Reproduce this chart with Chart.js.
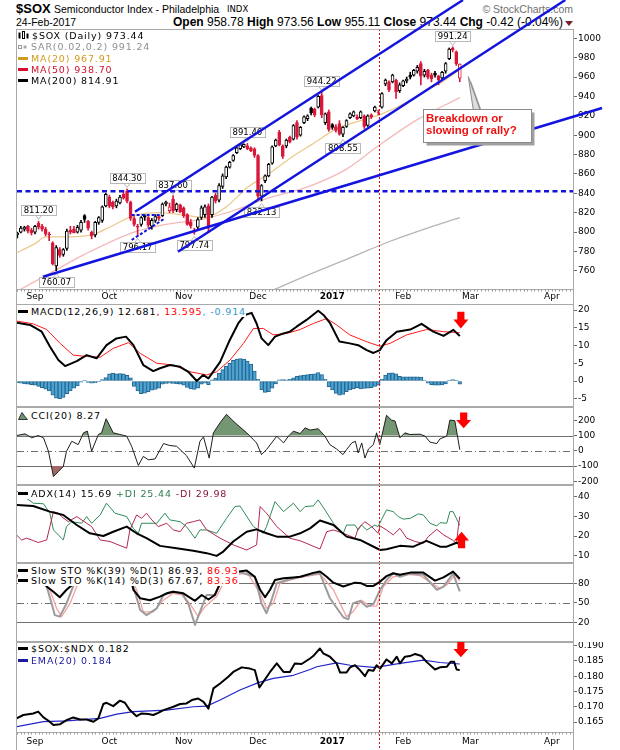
<!DOCTYPE html>
<html><head><meta charset="utf-8">
<script src="https://cdn.jsdelivr.net/npm/chart.js@4.4.1/dist/chart.umd.min.js"></script>
<style>
html,body{margin:0;padding:0;background:#fff;}
#wrap{position:relative;width:620px;height:750px;overflow:hidden;background:#fff;}
canvas{position:absolute;left:0;z-index:2;}
.t{position:absolute;white-space:nowrap;z-index:1;font-family:"Liberation Sans",Arial,sans-serif;color:#000;}
.lg{position:absolute;left:18px;z-index:5;font-family:"DejaVu Sans",sans-serif;font-size:9.5px;letter-spacing:0.85px;line-height:11px;white-space:nowrap;}
.lg .row{display:block;width:max-content;background:#fff;}
.ic{display:inline-block;width:10px;height:3px;vertical-align:middle;margin-right:3px;position:relative;top:-1px;}
.lg svg{vertical-align:middle;margin-right:3px;position:relative;top:-1px;}
</style></head>
<body><div id="wrap">
<div class="t" style="left:16px;top:2.3px;font-size:13px;line-height:13px;font-weight:bold;">$SOX</div>
<div class="t" style="left:54px;top:3.8px;font-size:10.5px;line-height:10.5px;">Semiconductor Index - Philadelphia</div>
<div class="t" style="left:227px;top:5.1px;font-size:8.5px;line-height:8.5px;font-family:'DejaVu Sans';">INDX</div>
<div class="t" style="left:16px;top:17.1px;font-size:10.5px;line-height:10.5px;">24-Feb-2017</div>
<div class="t" style="right:57px;top:15.8px;font-size:12px;line-height:12px;"><b>Open</b> 958.78 <b>High</b> 973.56 <b>Low</b> 955.11 <b>Close</b> 973.44 <b>Chg</b> -0.42 (-0.04%)</div>
<div class="t" style="left:565px;top:20.5px;width:0;height:0;border-left:4px solid transparent;border-right:4px solid transparent;border-top:5px solid #7a1f2b;"></div>
<div class="t" style="right:47px;top:3.6px;font-size:10.5px;line-height:10.5px;color:#707070;">© StockCharts.com</div>

<canvas id="cMain" width="620" height="305" style="top:0px"></canvas>
<canvas id="cMacd" width="620" height="103" style="top:304px"></canvas>
<canvas id="cCci" width="620" height="78" style="top:407px"></canvas>
<canvas id="cAdx" width="620" height="78" style="top:485px"></canvas>
<canvas id="cSto" width="620" height="79" style="top:563px"></canvas>
<canvas id="cRat" width="620" height="108" style="top:642px"></canvas>

<div class="lg" style="top:30px;line-height:11.3px;">
 <div class="row"><svg width="11" height="9"><rect x="0.5" y="1.5" width="2" height="6" fill="#000"/><rect x="4.5" y="0.5" width="2" height="7" fill="#fff" stroke="#000" stroke-width="1"/><rect x="8.5" y="2.5" width="2" height="5" fill="#000"/></svg>$SOX (Daily) 973.44</div>
 <div class="row" style="color:#8f8f8f"><svg width="10" height="9"><rect x="0.5" y="3.5" width="3" height="3" fill="none" stroke="#999"/><rect x="5.5" y="3.5" width="3" height="3" fill="#aaa"/></svg>SAR(0.02,0.2) 991.24</div>
 <div class="row" style="color:#d39b1d"><span class="ic" style="background:#d39b1d"></span>MA(20) 967.91</div>
 <div class="row" style="color:#d4102e"><span class="ic" style="background:#d4102e"></span>MA(50) 938.70</div>
 <div class="row"><span class="ic" style="background:#000"></span>MA(200) 814.91</div>
</div>
<div class="lg" style="top:306.2px;"><div class="row"><span class="ic" style="background:#000"></span>MACD(12,26,9) 12.681<span style="color:#ff0000">, 13.595</span><span style="color:#3399cc">, -0.914</span></div></div>
<div class="lg" style="top:410.2px;"><div class="row"><svg width="10" height="9"><polygon points="0.5,8.5 4,1.5 6.5,5 9.5,8.5" fill="#6f9470" stroke="#333" stroke-width="1"/></svg>CCI(20) 8.27</div></div>
<div class="lg" style="top:487.9px;"><div class="row"><span class="ic" style="background:#000"></span>ADX(14) 15.69 <span style="color:#2e7b4f">+DI 25.44</span> <span style="color:#8b1538">-DI 29.98</span></div></div>
<div class="lg" style="top:565.2px;"><div class="row"><span class="ic" style="background:#000"></span>Slow STO %K(39) %D(1) 86.93, <span style="color:#ff0000">86.93</span></div></div>
<div class="lg" style="top:574.5px;"><div class="row"><span class="ic" style="background:#000"></span>Slow STO %K(14) %D(3) 67.67, <span style="color:#ff0000">83.36</span></div></div>
<div class="lg" style="top:642.9px;"><div class="row"><span class="ic" style="background:#000"></span>$SOX:$NDX 0.182</div></div>
<div class="lg" style="top:654.5px;"><div class="row" style="color:#1a1a9a"><span class="ic" style="background:#1a1a9a"></span>EMA(20) 0.184</div></div>
</div>
<script>
// ---------------- DATA ----------------
// trading-day index: 0 = 1-Sep-2016, first candle is day -5 (25-Aug-2016), last is day 120 (24-Feb-2017)
const FIRST_DAY = -5;
const monthTicks = [0, 21, 42, 63, 84, 104, 123, 146];
const monthLabels = ['Sep', 'Oct', 'Nov', 'Dec', '2017', 'Feb', 'Mar', 'Apr'];

const opens = [797,800,803,806,802, 800,809,806,803,798, 789,765,782,777,783, 802,803,800,802,817,
  811,800,797,810,812, 827,836,831,827,830, 839,842,831,814,806, 808,817,815,806,812,
  816,817,829,822,834, 823,828,825,818,810, 800,805,815,818,827, 818,838,833,847,857,
  867,874,882,886,888, 889,887,886,879,837, 853,858,871,889,903, 889,889,898,896,913,
  900,913,917,928,927, 929,941,913,924,911, 909,912,901,909,918, 920,919,918,920,910,
  921,925,924,929,953, 955,955,957,946,951, 956,962,962,966,974, 962,967,962,964,961,
  959,966,979,990,986, 958.78];
const highs = [800,806,806,807,804, 807,811.2,808,805,800, 790,786,784,783,803, 806,806,807,812,818,
  812,801,811,816,827, 840,838,832,834,838, 843,844.3,832,816,808, 816,818,816,814,818,
  817,830,832,830,837.6, 830,829,826,819,813, 804,815,827,828,829, 837,840,850,860,868,
  873,880,888,891,891, 891.46,888,887,880,849, 859,871,889,896,905, 890,896,899,911,915,
  909,920,921,929,928, 941,944.22,923,926,912, 911,915,909,916,923, 925,921,925,921,921,
  922,930,926,944,958, 956,963,958,954,957, 960,965,968,972,976, 968,968,964,966,962,
  966,975,990,991.24,987, 973.56];
const lows = [794,799,801,799,797, 798,803,801,796,791, 766,760.07,774,775,781, 798,799,799,800,810,
  802,793,795,808,810, 826,825,824,825,829, 834,830,812,806,796.17, 806,812,805,803,810,
  812,816,827,820,820, 821,820,815,807,804, 797.74,803,813,815,800, 815,830,831,845,855,
  866,873,881,885,887, 885,883,877,834,832.13, 851,857,870,888,889, 876,887,892,895,896,
  899,912,915,921,919, 928,918,911,904,906, 903,900,898.55,908,917, 919,916,917,907,909,
  917,924,921,928,951, 945,954,938,944,950, 954,958,961,964,952, 960,958,955,960,952,
  957,964,978,986,972, 955.11];
const closes = [799,804,805,801,799, 806,805,803,798,797, 767,784,776,782,801, 800,799,805,810,813,
  804,796,810,815,826, 839,827,826,832,836, 835,832,814,808,805, 815,815.5,807,812,816,
  814,829,831,826,822, 829,821,817,808,806, 802,813,825,826,804, 836,832,848,858,867,
  872,879,887,890,890.5, 886,884,879,837,848, 858,870,888,895,890, 878,895,893,910,898,
  908,919,920,923,921, 940,921,922,906,908, 905,901,908,915,922, 924,917,924,909,920,
  919,929,923.5,943,957, 947,962,945,952,956, 958,960,967,970,961, 966,960,958,962,957,
  965,974,989,988,973.86, 973.44];

const ma20Days = [-5, 0, 3, 9, 16, 21, 28, 35, 43, 48, 54, 60, 66, 72, 78, 86, 93, 98, 105, 110, 115, 120];
const ma20Vals = [779, 788, 795, 795, 797, 805, 817, 820, 817, 815, 826, 846, 860, 876, 890, 908, 916, 922, 934, 945, 955, 967.91];
const ma50Days = [-5, 4, 14, 28, 37, 47, 56, 65, 78, 88, 97, 108, 120];
const ma50Vals = [739, 757, 777, 800, 808, 813, 822, 834, 848, 865, 889, 916, 938.70];
const ma200Days = [66, 78, 90, 100, 110, 120];
const ma200Vals = [738, 757, 775, 790, 803, 814.91];

const macdDays = [-5.2,-1.4,1.9,4.2,6.6,8.5,11.8,14.6,17.4,20.2,23,25.7,27.8,30.6,33.4,35.3,38.1,41,43.3,45.7,47.5,49,52.3,55,57.4,59.3,61.2,62.6,64,65.9,67.8,70.2,72,73.9,76.7,80,81.5,83.4,86,88.9,91.3,93.7,95.6,97.4,99.3,102.2,106,109.2,112.5,115.4,118.2,120];
const macdVals = [16.4,15.8,13.9,9.7,5.9,4.2,5.6,7.3,6.4,10.1,12,12.5,10.1,4.5,2.8,3.6,4.5,4.0,2.6,0.0,1.7,0.75,5.4,11.5,16.2,18.6,19.2,16.2,12,10.1,12.5,13.4,13.9,15.3,17.2,19.8,18.6,16.2,11.1,10.6,10.1,8.7,7.9,8.7,11.5,13.9,14.5,16.1,13.9,12.7,14.4,12.681];
const signalDays = [-5.2,-0.5,3.3,7.1,10.8,14.6,18.4,22.1,26.4,29.7,34.4,39.1,43.8,48.5,51.3,55.1,58.9,61.7,64.5,67.3,71.1,74.9,78.6,82.4,85.2,88.9,93.6,97.4,100.3,105,110.6,115.4,120];
const signalVals = [16.9,16.1,14.5,10.6,7.3,6.9,6.7,9.2,10.8,7.8,5.0,4.5,2.6,1.7,2.6,5.9,10.6,14.8,14.8,13.0,13.4,14.5,16.2,17.6,15.8,13.0,11.1,9.8,10.6,13.0,14.5,13.9,13.595];
const histVals = [-0.5,-0.6,-0.8,-0.9,-1.0, -1.2,-1.5,-1.9,-2.3,-2.8, -4.0,-4.8,-5.0,-4.6,-3.6, -2.8,-2.0,-1.4,-0.3,0.2,
  -0.4,-0.6,-0.5,-0.2,0.4, 1.0,2.0,2.2,2.0,2.1, 2.0,1.6,0.9,-1.5,-2.8, -3.6,-3.4,-3.0,-2.6,-2.4,
  -2.0,-0.9,-0.7,-0.6,-0.7, -0.8,-0.9,-1.2,-1.8,-2.2, -2.4,-2.0,-0.9,-0.6,-1.0, 0.3,0.8,2.2,3.2,4.2,
  5.0,5.8,6.2,6.3,6.2, 5.6,4.8,2.8,0.5,-2.5, -3.2,-3.0,-2.0,-0.8,0.3, 0.4,0.3,0.5,0.9,1.3,
  1.5,1.7,1.8,1.9,2.0, 2.4,1.8,0.5,-1.6,-2.5, -3.5,-4.0,-3.8,-3.0,-2.5, -2.2,-1.9,-2.2,-2.1,-2.0,
  -1.9,-1.5,-1.2,0.5,1.7, 2.2,2.3,2.0,1.3,1.2, 1.2,1.2,1.2,1.2,1.1, 0.2,-0.6,-1.0,-1.2,-1.2,
  -1.1,-0.8,0.1,0.4,0.1, -0.914];

const cciDays = [-5.2,-2.8,-0.9,0.9,2.4,3.8,5.2,6.6,8,8.9,10.4,12.2,13.7,14.8,16,17.9,18.8,20.1,22.1,24,25.9,27.3,29.2,30.6,32,33.9,36.3,38.1,40,42.8,45,46.6,47.6,49.2,50.4,52.3,54.1,56.5,59.8,62.6,64,65.4,68.3,70.2,71.6,73,74.9,76.3,77.7,80,81.9,83.3,85.2,87,88,89.5,90.5,91.3,92.3,93.2,94.2,95.6,96.5,97.4,99.3,100.7,101.7,103.1,104.5,105.9,108.8,110.2,111.6,113.5,114.4,116.3,117.2,118.6,120];
const cciVals = [102,113,87,102,87,-2,-169,-136,-102,-2,64,42,120,131,-2,109,120,213,120,109,98,31,-96,-36,-58,-53,49,36,31,-31,-113,64,93,-47,120,187,242,187,120,53,-24,9,98,53,98,131,115,153,138,147,98,42,13,-24,9,53,64,-13,53,-47,13,42,120,42,236,204,198,87,120,109,111,98,58,49,80,98,204,200,8.27];
const cciLevels = [100, 0, -100];

const adxDays = [-5.2,-0.5,4.2,8,11.8,15.5,19.3,22.1,25.9,28.7,31.5,35.3,40,44.7,48.5,51.3,53.2,56,59.8,62.6,65.4,68.3,72,74.9,77.7,80.5,84.3,88,91.8,97.5,99.3,103.1,106.9,110.6,114.4,116.3,119.1,120];
const adxVals = [35.8,35.3,32.4,30.7,25.6,21.4,20.0,22.2,24.8,21.4,18.9,15.0,13.8,12.5,11.3,9.9,12.1,17.2,22.2,23.4,21.4,19.7,19.7,21.4,23.9,27.9,25.6,19.7,18,12.9,13.3,15,14.6,17.5,14.6,14.6,16.6,15.69];
const pdiDays = [-5.2,-3.8,-2.4,-0.5,2.4,4.2,5.2,8,8.9,10.4,13.2,14.6,16,18.4,20.2,22.6,25.9,27.8,29.2,30.1,34.4,36.7,38.1,41,42.8,45.2,46.6,48.5,51.3,54.1,56.5,57.9,61.7,64.5,65.4,67.8,70.2,73,74.9,76.3,78.6,80,81.9,84.3,87.1,88,90.4,91.3,92.2,93.7,96,96.9,99.3,101.2,102.6,104,106,108.3,109.7,111.6,113.5,114.4,116.3,117.2,118.1,120];
const pdiVals = [43,41,39.2,36.7,36.4,31.6,23.1,18,24.8,27.3,26.5,29.9,26.5,30.7,36.7,31.6,29.9,23.9,21.4,26.5,26.5,31.6,28.2,27.3,24.8,18.9,23.1,23.1,21.4,29.0,35.0,35.3,24.8,21.4,24.8,37.5,32.4,36.7,32.4,35,35.3,38.4,33.3,26.5,21.4,25.6,25.6,23.1,25.6,23.1,25.6,24.8,33.3,32.4,29.9,28.6,29,31.3,30.7,26.5,25.1,26.8,26.5,32.4,32.4,25.44];
const mdiDays = [-5.2,-3.8,-2.4,-0.5,0.9,3.3,4.2,5.2,6.6,7.5,9.4,11.8,16,18.4,21.2,25.9,26.8,28.7,30.1,31.5,33,34.8,37.2,39.1,41,42.8,44.7,46.6,48.5,52.3,56,59.8,62.6,63.6,65.4,68.3,72,74.9,77.7,80.5,82.4,84.3,87.1,90.4,91.3,93.2,95.1,96.9,97.5,99.3,101.2,103.1,105,107.4,109.7,111.1,113.5,115.4,117.9,119.1,119.6,120];
const mdiVals = [20.5,18,18.9,17.7,16.7,18,24.8,32.4,31.6,29.9,27.3,29.9,24.8,18,17.2,13.8,23.1,30.7,29,31.6,28.2,24.8,26.5,23.1,22.2,26.5,27.3,28.2,23.1,18.9,15.5,12.9,15.5,35,31.6,24.8,18.9,17.6,15.5,13.4,22.2,23.1,21.4,18.9,23.9,27.3,24.8,21.4,25.1,23.1,20.6,23.9,18.9,17.2,16.3,19.7,23.4,20.6,18,16.3,24.8,29.98];

const k39Days = [-5,0,2.5,3.3,5.2,7,8.9,10.4,12,15,20,25,27,27.8,29.7,32.5,35.3,37.2,39,41.9,45.2,47.1,49,50.8,52.3,53.2,56,59.8,62.1,63.6,65,66.4,67.8,70.2,73,75,78.6,80.5,82.4,84.3,87.1,90.4,92.2,93.7,95.6,97.5,99.3,101.2,103.1,106,109.7,113,115.4,118.1,120];
const k39Vals = [92,90,82,75,67,58.5,70,77,86,92,95,94,88,70,57,54,59.5,64.6,67,64.6,53,62,55,62,80,90,97,99.5,90,70,58.5,70,85,87.7,89,90,96,98,90,81,75,81,80,76,76,82.6,91,95.4,93,96.4,96.4,84,89,98,86.93];
const k14Days = [-5,1,3.3,4.7,5.6,7,8.9,10.4,11.5,15,20,26,27.8,29.7,31.5,34.4,36.3,39,41.4,43.3,45.2,46.6,48.5,50.8,52.3,54,58,62.1,64,65.4,66.8,68.3,71.1,74.9,79.6,80.5,83.3,87.1,88.5,89.8,91.8,93.7,95.6,97.5,99.3,101.2,103.1,106,109.7,113.5,115.4,118.1,120];
const k14Vals = [90,85,75,49,31,28.7,49,70,85,92,95,93,75,39,31,41.5,62,67,64.6,49,16,36,62,62,80,92,97,90,49,34,54,80,85,90,95,95,57,27.7,24.6,49,53,44,48,70,85,95.4,90,95,93,70,75,95,67.67];
const d3Days = [-5,2,4.2,6.1,7.5,9.9,11.8,13,20,27,28.7,30.6,33.4,36.3,39,41.9,44.3,46.1,48,51.3,53.2,56,60,63.6,65.4,67.3,69.2,72,74.9,80.5,84.3,88,89.8,92.2,94.6,96.5,98.4,101.2,105,108.8,114.4,116.3,118.6,120];
const d3Vals = [88,86,70,41.5,28.7,49,75,85,94,90,70,36,36,54,64.6,62,44,28.7,44,59.5,80,92,96,64.6,41.5,49,80,85,89,94,70,28.7,36,54,45,45,75,90,93.8,91.8,72,77.4,92.8,83.36];
const stoLevels = [80, 50, 20];

const ratioDays = [-5.2,-3.3,-0.5,0.9,2.4,3.8,5.2,7.1,8.9,10.8,12.7,14.6,16.5,17.9,19.3,20.2,22.1,24,25.4,26.8,28.7,30.1,32,33.4,34.8,36.3,39.1,41,42.8,44.3,46.1,47.6,49,50.4,52.3,54.6,56,58.4,60.7,62.1,63.4,64.5,66.4,68.3,70.2,72,73.4,75.3,77.7,78.6,80.5,81.4,83.3,85.2,86.2,88,89,90.4,91.8,93.2,94.2,95.6,96.5,97.5,99.3,100.8,102.2,103.1,104.5,105.9,107.4,109.2,110.6,113,114.4,116.3,117.4,118.4,119.1,120];
const ratioVals = [0.1662,0.1673,0.1678,0.1684,0.1665,0.1654,0.1640,0.1643,0.1656,0.1665,0.1658,0.1658,0.1651,0.1662,0.1709,0.1713,0.1702,0.1720,0.1713,0.1689,0.1669,0.1678,0.1676,0.1673,0.1680,0.1689,0.1700,0.1709,0.1711,0.1722,0.1727,0.1716,0.1694,0.1760,0.1776,0.1798,0.1814,0.1829,0.1825,0.1820,0.1763,0.1782,0.1814,0.1842,0.1814,0.1814,0.1842,0.1840,0.1858,0.1866,0.1891,0.1875,0.1864,0.1842,0.1812,0.1812,0.1829,0.1836,0.1820,0.1800,0.1820,0.1818,0.1836,0.1825,0.1855,0.1842,0.1864,0.1842,0.1864,0.1866,0.1873,0.1866,0.1847,0.1822,0.1829,0.1831,0.1847,0.1847,0.1822,0.182];
const emaDays = [-5.2,2.4,8.9,18.4,23.1,27.8,37.2,44.7,48.5,52.3,57.9,63.1,67.3,73,77.7,79.6,85.2,89,95.6,98.4,103.1,109.7,114.4,120];
const emaVals = [0.1635,0.1651,0.1654,0.1662,0.1676,0.1684,0.1689,0.1700,0.1702,0.1722,0.1755,0.1779,0.1793,0.1803,0.1822,0.1831,0.1844,0.1836,0.1829,0.1833,0.1842,0.1853,0.1845,0.184];

// price annotation labels (highs / lows)
const labelDays   = [1, 6, 26, 29, 39, 45, 60, 64, 81, 87, 118];
const labelPrices = [811.20, 760.07, 844.30, 796.17, 837.60, 797.74, 891.46, 832.13, 944.22, 898.55, 991.24];
const labelAbove  = [true, false, true, false, true, false, true, false, true, false, true];

// ---------------- ANNOTATION GEOMETRY (data space) ----------------
const VLINE_DAY = 97.2;
const SUPPORT_LEVEL = 842;
const trendLines = [[28.25, 821.0, 120.9, 1039.5], [40.4, 779.75, 149.8, 1039.5], [2.26, 753.9, 160.2, 928.1]];
const shortDashed = [[27.3, 817.6, 35.3, 817.6], [27.3, 791.8, 36.7, 814.2]];
const calloutBox = [109.5, 140.1, 926.7, 893.3];
const calloutTip = [122.4, 960.4];
const calloutBase = [123.8, 125.7];
const calloutText = ['Breakdown or', 'slowing of rally?'];

// ---------------- RENDERING ----------------
const X_MIN = -5.085, X_MAX = 151.98;
const RED = '#d8183a', BLUE = '#1414e0';
const pts = (xs, ys) => xs.map((x, i) => ({x: x, y: ys[i]}));
const candleX = closes.map((_, i) => i + FIRST_DAY);
function candleColor(i) { const prev = i > 0 ? closes[i - 1] : opens[i]; return closes[i] < prev ? RED : '#000'; }

function opts(cfg) {
  return {
    responsive: false, animation: false, events: [],
    layout: {padding: {left: 17, right: 0, top: cfg.padTop || 0, bottom: 0}},
    plugins: Object.assign({legend: {display: false}, tooltip: {enabled: false}}, cfg.plugins || {}),
    scales: {
      x: {
        type: 'linear', min: X_MIN, max: X_MAX, offset: false, display: !!cfg.xAxis,
        grid: {display: false, drawTicks: false}, border: {display: false},
        afterBuildTicks: s => { s.ticks = monthTicks.map(v => ({value: v})); },
        afterFit: s => { if (cfg.xAxis) s.height = cfg.xAxis.h; s.paddingLeft = 0; s.paddingRight = 0; },
        ticks: {
          autoSkip: false, maxRotation: 0, minRotation: 0, padding: cfg.xAxis ? cfg.xAxis.pad : 0, color: '#000',
          font: c => ({family: 'DejaVu Sans', size: 9, weight: (c.tick && c.tick.value === 84) ? 'bold' : 'normal'}),
          callback: v => { const k = monthTicks.indexOf(v); return k >= 0 ? monthLabels[k] : ''; }
        }
      },
      y: {
        type: 'linear', position: 'right', min: cfg.yMin, max: cfg.yMax, beginAtZero: false,
        afterBuildTicks: s => { s.ticks = cfg.yTicks.map(v => ({value: v})); },
        afterFit: s => { s.width = 47; s.paddingTop = 0; s.paddingBottom = 0; },
        grid: {display: true, drawOnChartArea: false, drawTicks: true, tickLength: 4, color: '#6a6a6a'},
        border: {display: false},
        ticks: {autoSkip: false, padding: 1, color: '#000', font: {family: 'DejaVu Sans', size: 9}, callback: v => cfg.fmt(v)}
      }
    }
  };
}

const framePlugin = {
  id: 'frame',
  beforeDatasetsDraw(chart, args, o) {
    const {ctx, chartArea: a, scales: {y}} = chart;
    (o.levels || []).forEach((lv, k) => {
      const py = Math.round(y.getPixelForValue(lv)) + 0.5;
      ctx.save(); ctx.strokeStyle = '#707070'; ctx.lineWidth = 1;
      ctx.setLineDash(o.dashDot && o.dashDot[k] ? [7, 3, 1, 3] : []);
      ctx.beginPath(); ctx.moveTo(a.left, py); ctx.lineTo(a.right, py); ctx.stroke(); ctx.restore();
    });
  },
  afterDatasetsDraw(chart, args, o) {
    const {ctx, chartArea: a, scales: {x}} = chart;
    ctx.save();
    const vx = Math.round(x.getPixelForValue(VLINE_DAY)) + 0.5;
    ctx.strokeStyle = '#e01010'; ctx.lineWidth = 1; ctx.setLineDash([2, 2]);
    ctx.beginPath(); ctx.moveTo(vx, a.top); ctx.lineTo(vx, chart.height); ctx.stroke();
    ctx.restore();
  },
  afterDraw(chart, args, o) {
    const {ctx, chartArea: a, scales: {x}} = chart;
    ctx.save(); ctx.strokeStyle = '#a9a9a9'; ctx.lineWidth = 1;
    const t = Math.floor(a.top) + 0.5, b = Math.ceil(a.bottom) - 0.5;
    ctx.beginPath();
    ctx.moveTo(16, t); ctx.lineTo(574, t);
    ctx.moveTo(16, b); ctx.lineTo(574, b);
    ctx.moveTo(16.5, a.top); ctx.lineTo(16.5, chart.height);
    ctx.moveTo(573.5, a.top); ctx.lineTo(573.5, chart.height);
    ctx.stroke();
    if (o.dayTicks) {
      ctx.strokeStyle = '#9a9a9a'; ctx.beginPath();
      for (let d = Math.ceil(X_MIN); d <= X_MAX; d++) {
        const px = Math.round(x.getPixelForValue(d)) + 0.5;
        ctx.moveTo(px, b); ctx.lineTo(px, b + 2);
      }
      ctx.stroke();
    }
    ctx.restore();
  }
};

const arrowPlugin = {
  id: 'arrow',
  afterDraw(chart, args, o) {
    if (!o.list) return;
    const {ctx, scales: {x, y}} = chart;
    o.list.forEach(ar => {
      const cx = x.getPixelForValue(ar.d), y1 = y.getPixelForValue(ar.top), y2 = y.getPixelForValue(ar.bottom);
      const h = y2 - y1, hw = 7.5, sw = 3.6;
      ctx.save(); ctx.fillStyle = '#ff0000'; ctx.beginPath();
      if (ar.dir === 'down') {
        const m = y1 + h * 0.47;
        ctx.moveTo(cx - sw, y1); ctx.lineTo(cx + sw, y1); ctx.lineTo(cx + sw, m); ctx.lineTo(cx + hw, m);
        ctx.lineTo(cx, y2); ctx.lineTo(cx - hw, m); ctx.lineTo(cx - sw, m);
      } else {
        const m = y2 - h * 0.47;
        ctx.moveTo(cx - sw, y2); ctx.lineTo(cx + sw, y2); ctx.lineTo(cx + sw, m); ctx.lineTo(cx + hw, m);
        ctx.lineTo(cx, y1); ctx.lineTo(cx - hw, m); ctx.lineTo(cx - sw, m);
      }
      ctx.closePath(); ctx.fill(); ctx.restore();
    });
  }
};

function drawPriceLabel(ctx, px, py, text, above) {
  ctx.font = '8.5px "DejaVu Sans"';
  const tw = ctx.measureText(text).width;
  const w = Math.round(tw + 5), h = 10;
  const bx = Math.round(px - w / 2) + 0.5;
  const by = above ? Math.round(py - 6 - h) + 0.5 : Math.round(py + 6) + 0.5;
  ctx.fillStyle = '#fff'; ctx.strokeStyle = '#b8b8b8'; ctx.lineWidth = 1;
  ctx.beginPath();
  if (above) { ctx.moveTo(px - 3, by + h); ctx.lineTo(px, by + h + 4); ctx.lineTo(px + 3, by + h); }
  else { ctx.moveTo(px - 3, by); ctx.lineTo(px, by - 4); ctx.lineTo(px + 3, by); }
  ctx.fill(); ctx.stroke();
  ctx.fillRect(bx, by, w, h); ctx.strokeRect(bx, by, w, h);
  ctx.fillStyle = '#000'; ctx.textBaseline = 'middle'; ctx.textAlign = 'center';
  ctx.fillText(text, px, by + h / 2 + 0.5);
}

const annotPlugin = {
  id: 'annot',
  afterDatasetsDraw(chart) {
    const {ctx, scales: {x, y}} = chart;
    ctx.save();
    labelDays.forEach((d, i) => {
      drawPriceLabel(ctx, x.getPixelForValue(d), y.getPixelForValue(labelPrices[i]), labelPrices[i].toFixed(2), labelAbove[i]);
    });
    ctx.restore();
  },
  afterDraw(chart) {
    const {ctx, chartArea: a, scales: {x, y}} = chart;
    const P = (d, v) => [x.getPixelForValue(d), y.getPixelForValue(v)];
    const seg = (s) => { const p1 = P(s[0], s[1]), p2 = P(s[2], s[3]); ctx.beginPath(); ctx.moveTo(p1[0], p1[1]); ctx.lineTo(p2[0], p2[1]); ctx.stroke(); };
    ctx.save();
    ctx.strokeStyle = BLUE; ctx.lineCap = 'butt';
    // horizontal support
    ctx.lineWidth = 2.5; ctx.setLineDash([5, 3.5]);
    const hy = y.getPixelForValue(SUPPORT_LEVEL);
    ctx.beginPath(); ctx.moveTo(a.left, hy); ctx.lineTo(a.right, hy); ctx.stroke();
    // short dashed
    ctx.lineWidth = 2; ctx.setLineDash([3, 2]);
    shortDashed.forEach(seg);
    // trendlines
    ctx.setLineDash([]); ctx.lineWidth = 2.5;
    trendLines.forEach(seg);
    // callout
    const tl = P(calloutBox[0], calloutBox[2]), br = P(calloutBox[1], calloutBox[3]);
    const l = Math.round(tl[0]) + 0.5, t = Math.round(tl[1]) + 0.5, r = Math.round(br[0]) + 0.5, b = Math.round(br[1]) + 0.5;
    const tip = P(calloutTip[0], calloutTip[1]);
    const b1 = x.getPixelForValue(calloutBase[0]), b2 = x.getPixelForValue(calloutBase[1]);
    ctx.lineWidth = 1;
    ctx.fillStyle = '#a0a0a0';
    ctx.beginPath(); ctx.moveTo(b1 + 2, t + 2); ctx.lineTo(tip[0] + 2, tip[1] + 2); ctx.lineTo(b2 + 2, t + 2); ctx.closePath(); ctx.fill();
    ctx.fillRect(l + 3, t + 3, r - l, b - t);
    ctx.fillStyle = '#dcdcdc'; ctx.strokeStyle = '#8a8a8a';
    ctx.beginPath(); ctx.moveTo(b1, t); ctx.lineTo(tip[0], tip[1]); ctx.lineTo(b2, t); ctx.closePath(); ctx.fill(); ctx.stroke();
    ctx.fillStyle = '#fff'; ctx.fillRect(l, t, r - l, b - t); ctx.strokeRect(l, t, r - l, b - t);
    ctx.font = 'bold 11.5px "Liberation Sans"'; ctx.fillStyle = '#ee1111'; ctx.textAlign = 'left'; ctx.textBaseline = 'alphabetic';
    ctx.fillText(calloutText[0], l + 2.5, t + 12.5);
    ctx.fillText(calloutText[1], l + 2.5, t + 24.8);
    ctx.restore();
  }
};

const lineDs = (xs, ys, color, width, order, extra) => Object.assign({
  type: 'line', data: pts(xs, ys), borderColor: color, borderWidth: width, pointRadius: 0,
  tension: 0, fill: false, order: order, borderJoinStyle: 'round'
}, extra || {});

// MAIN PRICE PANEL
new Chart(document.getElementById('cMain'), {
  type: 'bar',
  data: {datasets: [
    lineDs(ma200Days, ma200Vals, '#b5b5b5', 1.3, 12, {cubicInterpolationMode: 'monotone'}),
    lineDs(ma50Days, ma50Vals, '#f3b9b9', 1.3, 11, {cubicInterpolationMode: 'monotone'}),
    lineDs(ma20Days, ma20Vals, '#ecc98c', 1.3, 10, {cubicInterpolationMode: 'monotone'}),
    {type: 'bar', data: candleX.map((x, i) => ({x: x, y: [lows[i], highs[i]]})), grouped: false, barThickness: 1,
      backgroundColor: c => candleColor(c.dataIndex), borderWidth: 0, order: 2},
    {type: 'bar', data: candleX.map((x, i) => ({x: x, y: [opens[i], closes[i]]})), grouped: false, barThickness: 3,
      backgroundColor: c => closes[c.dataIndex] < opens[c.dataIndex] ? candleColor(c.dataIndex) : '#fff',
      borderColor: c => candleColor(c.dataIndex), borderWidth: 1, borderSkipped: false, order: 1}
  ]},
  options: opts({yMin: 740.2, yMax: 1009.6, yTicks: [760,780,800,820,840,860,880,900,920,940,960,980,1000], fmt: v => String(v),
    padTop: 29, xAxis: {h: 15, pad: 1}, plugins: {frame: {dayTicks: true}}}),
  plugins: [framePlugin, annotPlugin]
});

// MACD
new Chart(document.getElementById('cMacd'), {
  type: 'bar',
  data: {datasets: [
    {type: 'bar', data: histVals.map((v, i) => ({x: i + FIRST_DAY, y: v})), grouped: false, barThickness: 3.6,
      backgroundColor: '#4ea3d3', borderColor: '#236790', borderWidth: 1, borderSkipped: false, order: 3},
    lineDs(signalDays, signalVals, '#ff1a1a', 1, 2),
    lineDs(macdDays, macdVals, '#000', 2, 1)
  ]},
  options: opts({yMin: -7.32, yMax: 21.69, yTicks: [20,15,10,5,0,-5], fmt: v => String(v),
    plugins: {arrow: {list: [{d: 120.3, top: 19.5, bottom: 14.8, dir: 'down'}]}}}),
  plugins: [framePlugin, arrowPlugin]
});

// CCI
new Chart(document.getElementById('cCci'), {
  type: 'line',
  data: {datasets: [
    lineDs(cciDays, cciVals, 'rgba(0,0,0,0)', 0, 3, {fill: {target: {value: -100}, above: 'rgba(0,0,0,0)', below: '#a36767'}}),
    lineDs(cciDays, cciVals, '#1e1e1e', 1, 1, {fill: {target: {value: 100}, above: '#759673', below: 'rgba(0,0,0,0)'}})
  ]},
  options: opts({yMin: -225, yMax: 290.7, yTicks: [200,100,0,-100,-200], fmt: v => String(v),
    plugins: {frame: {levels: cciLevels, dashDot: [false, true, false]}, arrow: {list: [{d: 121.1, top: 253.6, bottom: 150, dir: 'down'}]}}}),
  plugins: [framePlugin, arrowPlugin]
});

// ADX
new Chart(document.getElementById('cAdx'), {
  type: 'line',
  data: {datasets: [
    lineDs(pdiDays, pdiVals, '#2f8a58', 1, 3),
    lineDs(mdiDays, mdiVals, '#b4284f', 1, 2),
    lineDs(adxDays, adxVals, '#000', 2, 1)
  ]},
  options: opts({yMin: 6.29, yMax: 45.95, yTicks: [40,30,20,10], fmt: v => String(v),
    plugins: {arrow: {list: [{d: 120.5, top: 22.2, bottom: 13.8, dir: 'up'}]}}}),
  plugins: [framePlugin, arrowPlugin]
});

// SLOW STO
new Chart(document.getElementById('cSto'), {
  type: 'line',
  data: {datasets: [
    lineDs(d3Days, d3Vals, '#f4a2a2', 1.3, 3),
    lineDs(k14Days, k14Vals, '#9c9c9c', 2, 2),
    lineDs(k39Days, k39Vals, '#000', 2, 1)
  ]},
  options: opts({yMin: -10.3, yMax: 111.2, yTicks: [80,50,20], fmt: v => String(v),
    plugins: {frame: {levels: stoLevels, dashDot: [false, true, false]}}}),
  plugins: [framePlugin]
});

// $SOX:$NDX
new Chart(document.getElementById('cRat'), {
  type: 'line',
  data: {datasets: [
    lineDs(emaDays, emaVals, '#2323c8', 1.2, 2),
    lineDs(ratioDays, ratioVals, '#000', 2, 1)
  ]},
  options: opts({yMin: 0.16140, yMax: 0.19121, yTicks: [0.190,0.185,0.180,0.175,0.170,0.165], fmt: v => v.toFixed(3),
    xAxis: {h: 17, pad: 3}, plugins: {frame: {dayTicks: true}, arrow: {list: [{d: 120.3, top: 0.19131, bottom: 0.18620, dir: 'down'}]}}}),
  plugins: [framePlugin, arrowPlugin]
});
</script>
</body></html>
